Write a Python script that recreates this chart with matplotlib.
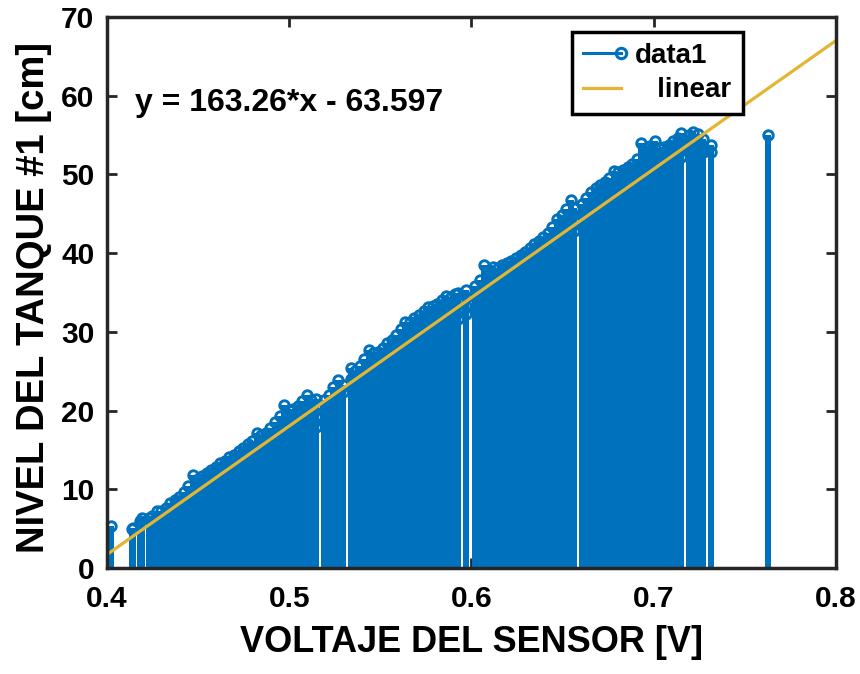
import matplotlib
matplotlib.use('Agg')
import matplotlib.pyplot as plt
from matplotlib.lines import Line2D
from matplotlib.legend_handler import HandlerBase
import numpy as np

plt.rcParams['font.family'] = ['Liberation Sans', 'DejaVu Sans']
plt.rcParams['font.weight'] = 'bold'

# datos (voltaje del sensor [V], nivel [cm])
voltaje = [
    0.4023, 0.4135, 0.4145, 0.4180, 0.4190,
    0.4228, 0.4247, 0.4272, 0.4297, 0.4322, 0.4347, 0.4372, 0.4397, 0.4422, 0.4447,
    0.4472, 0.4497, 0.4522, 0.4547, 0.4572, 0.4597, 0.4622, 0.4647, 0.4672, 0.4697,
    0.4722, 0.4747, 0.4772, 0.4797, 0.4822, 0.4847, 0.4872, 0.4897, 0.4922, 0.4947,
    0.4972, 0.4997, 0.5022, 0.5047, 0.5072, 0.5097, 0.5122,
    0.5147, 0.5147, 0.5147, 0.5147,
    0.5191, 0.5191, 0.5191, 0.5216, 0.5241, 0.5266, 0.5293, 0.5293,
    0.5337, 0.5337, 0.5337, 0.5362, 0.5387, 0.5412, 0.5437, 0.5462, 0.5487, 0.5512,
    0.5537, 0.5562, 0.5587, 0.5612, 0.5637, 0.5662, 0.5687, 0.5712, 0.5737, 0.5762,
    0.5787, 0.5812, 0.5837, 0.5862, 0.5887, 0.5912,
    0.5924, 0.5924, 0.5924, 0.5924,
    0.5971, 0.5971, 0.5971, 0.5971,
    0.6019, 0.6019, 0.6019, 0.6044, 0.6069, 0.6094, 0.6119, 0.6144, 0.6169, 0.6194,
    0.6219, 0.6244, 0.6269, 0.6294, 0.6319, 0.6344, 0.6369, 0.6394, 0.6419, 0.6444,
    0.6469, 0.6494, 0.6519, 0.6544, 0.6562, 0.6562, 0.6562,
    0.6606, 0.6606, 0.6606, 0.6631, 0.6656, 0.6681, 0.6706, 0.6731, 0.6756, 0.6781,
    0.6806, 0.6831, 0.6856, 0.6881, 0.6906, 0.6931, 0.6956, 0.6981, 0.7006, 0.7031,
    0.7056, 0.7081, 0.7106, 0.7131, 0.7149, 0.7149, 0.7149,
    0.7193, 0.7193, 0.7193, 0.7218, 0.7243, 0.7268, 0.7268, 0.7268,
    0.7315, 0.7315,
    0.7628,
]
nivel = [
    5.3, 4.9, 5.1, 6.0, 6.3,
    6.4, 6.6, 7.3, 7.2, 7.6, 8.2, 8.6, 9.0, 9.7, 10.4,
    11.8, 11.3, 11.7, 12.1, 12.4, 12.8, 13.3, 13.6, 14.1, 14.4,
    14.8, 15.3, 15.7, 16.1, 17.1, 16.9, 17.2, 17.8, 18.5, 19.3,
    20.7, 20.1, 20.2, 20.6, 21.2, 22.0, 21.4,
    21.5, 17.9, 19.2, 20.4,
    21.4, 18.5, 19.9, 22.0, 23.0, 23.9, 23.3, 22.3,
    25.4, 22.9, 24.0, 25.0, 25.6, 26.5, 27.7, 27.3, 27.5, 28.0,
    28.6, 29.0, 29.6, 30.3, 31.3, 31.3, 31.8, 32.2, 32.6, 33.2,
    33.3, 33.6, 34.0, 34.5, 34.4, 34.8,
    34.9, 31.6, 32.9, 34.0,
    35.3, 32.3, 33.3, 34.4,
    35.8, 33.1, 34.4, 36.6, 38.5, 37.8, 38.3, 38.1, 38.5, 38.7,
    39.0, 39.4, 39.8, 40.2, 40.7, 41.1, 41.6, 42.1, 42.6, 43.3,
    44.3, 44.9, 45.6, 46.8, 45.7, 42.8, 44.1,
    46.2, 43.4, 44.8, 47.0, 47.8, 48.3, 48.7, 49.0, 49.5, 50.4,
    50.3, 50.6, 50.9, 51.3, 52.0, 54.0, 53.4, 53.6, 54.2, 53.4,
    53.5, 53.7, 54.2, 54.6, 55.2, 52.2, 53.5,
    55.0, 52.8, 54.1, 55.4, 55.1, 54.5, 52.8, 53.6,
    53.7, 52.9,
    55.0,
]

# ajuste lineal
pendiente = 163.26
intercepto = -63.597
x_ajuste = [0.4, 0.8]

azul = '#0072BD'
amarillo = '#E3B532'
negro = '#262626'

fig = plt.figure(figsize=(8.6, 6.74), dpi=100)
ax = fig.add_axes([0.1244, 0.1573, 0.8477, 0.8175])

markerline, stemlines, baseline = ax.stem(voltaje, nivel, basefmt=' ')
stemlines.set_color(azul)
stemlines.set_linewidth(4.0)
stemlines.set_antialiased(False)
markerline.set_color(azul)
markerline.set_marker('o')
markerline.set_markersize(6.8)
markerline.set_markerfacecolor('none')
markerline.set_markeredgewidth(2.1)

y_ajuste = [pendiente * v + intercepto for v in x_ajuste]
ax.plot(x_ajuste, y_ajuste, color=amarillo, lw=2.3)

ax.text(0.4154, 59.1, 'y = 163.26*x - 63.597', fontsize=23, fontweight='bold',
        va='center', ha='left', color='black')

ax.set_xlim(0.4, 0.8)
ax.set_ylim(0, 70)
ax.set_xticks([0.4, 0.5, 0.6, 0.7, 0.8])
ax.set_xticklabels(['0.4', '0.5', '0.6', '0.7', '0.8'])
ax.set_yticks(range(0, 71, 10))
ax.tick_params(direction='in', length=7, width=2, top=True, right=True,
               labelsize=21.5, colors=negro, labelcolor='black')
ax.tick_params(axis='x', pad=12)
ax.tick_params(axis='y', pad=9)
for s in ax.spines.values():
    s.set_linewidth(2.5)
    s.set_color(negro)

ax.set_xlabel('VOLTAJE DEL SENSOR [V]', fontsize=26, fontweight='bold', labelpad=9)
ax.set_ylabel('NIVEL DEL TANQUE #1 [cm]', fontsize=27.5, fontweight='bold')
ax.yaxis.set_label_coords(-0.075, 0.49)


class StemLegend(HandlerBase):
    def create_artists(self, legend, orig, xd, yd, w, h, fs, trans):
        y = h / 2 - yd
        l = Line2D([-xd, w - xd], [y, y], color=azul, lw=2.2)
        m = Line2D([w - xd], [y], marker='o', ms=7.5, mfc='none', mec=azul, mew=2.2)
        l.set_transform(trans)
        m.set_transform(trans)
        return [l, m]


h_stem = Line2D([], [], color=azul)
h_lin = Line2D([], [], color=amarillo, lw=2.3)
leg = ax.legend([h_stem, h_lin], ['data1', '   linear'],
                handler_map={h_stem: StemLegend()},
                loc='upper right', bbox_to_anchor=(0.872, 0.973),
                fontsize=20, fancybox=False, framealpha=1, edgecolor='black',
                handlelength=1.35, handletextpad=0.5, labelspacing=0.3,
                borderpad=0.4, borderaxespad=0)
leg.get_frame().set_linewidth(2.5)

plt.savefig('out.png', dpi=100)
